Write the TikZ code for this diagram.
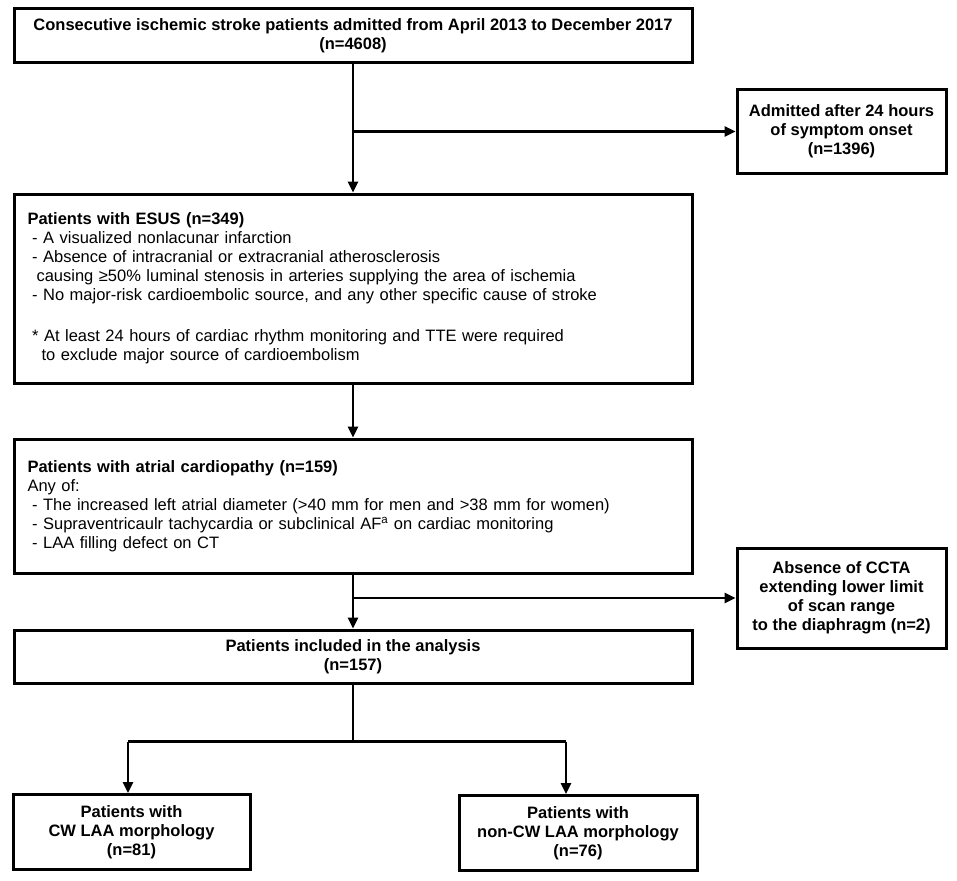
\documentclass[tikz,border=0pt]{standalone}
\usepackage{fontspec}
\setmainfont{Liberation Sans}
\usetikzlibrary{arrows.meta,calc,positioning}
\definecolor{boxdraw}{HTML}{000000}
\definecolor{linkdraw}{HTML}{000000}
\tikzset{
  >={Triangle[length=11pt,width=10pt]},
  flowbox/.style={
    draw=boxdraw,
    line width=3pt,
    fill=white,
    align=center,
    inner sep=4pt,
    font=\fontsize{16.5}{19}\selectfont\bfseries,
  },
  mainbox/.style={flowbox, minimum width=678pt},
  sidebox/.style={flowbox, minimum width=209pt},
  listbox/.style={mainbox, align=left, text width=651pt, inner xsep=13.5pt,
    font=\fontsize{16.5}{19}\selectfont},
  endbox/.style={flowbox, minimum width=237pt, minimum height=75pt},
  link/.style={draw=linkdraw, line width=2.5pt},
}

\begin{document}
\begin{tikzpicture}[x=1pt, y=-1pt, line join=miter]
  \useasboundingbox[fill=white] (0,0) rectangle (957,880);

  \node[mainbox, minimum height=54pt] (cohort) at (353, 36)
    {Consecutive ischemic stroke patients admitted from April 2013 to December 2017\\(n=4608)};
  \node[sidebox, minimum height=83pt] (late) at (841.5, 131.5)
    {Admitted after 24 hours\\of symptom onset\\(n=1396)};
  \node[listbox, minimum height=189pt] (esus) at (353, 288.5) {%
    \textbf{Patients with ESUS (n=349)}\\
    \hspace*{4.6pt}- A visualized nonlacunar infarction\\
    \hspace*{4.6pt}- Absence of intracranial or extracranial atherosclerosis\\
    \hspace*{9pt}causing ≥50\% luminal stenosis in arteries supplying the area of ischemia\\
    \hspace*{4.6pt}- No major-risk cardioembolic source, and any other specific cause of stroke\\[22pt]
    \hspace*{4.6pt}* At least 24 hours of cardiac rhythm monitoring and TTE were required\\
    \hspace*{14pt}to exclude major source of cardioembolism};
  \node[listbox, minimum height=134pt] (atrial) at (353, 506) {%
    \textbf{Patients with atrial cardiopathy (n=159)}\\
    Any of:\\
    \hspace*{4.6pt}- The increased left atrial diameter (>40 mm for men and >38 mm for women)\\
    \hspace*{4.6pt}- Supraventricaulr tachycardia or subclinical AF\textsuperscript{a} on cardiac monitoring\\
    \hspace*{4.6pt}- LAA filling defect on CT};
  \node[sidebox, minimum height=100pt] (ccta) at (841.5, 598)
    {Absence of CCTA\\extending lower limit\\of scan range\\to the diaphragm (n=2)};
  \node[mainbox, minimum height=53pt] (incl) at (353, 656.5)
    {Patients included in the analysis\\(n=157)};
  \node[endbox] (cw) at (131.5, 832)
    {Patients with\\CW LAA morphology\\(n=81)};
  \node[endbox, minimum width=238pt] (noncw) at (578, 833)
    {Patients with\\non-CW LAA morphology\\(n=76)};

  % exclusions branch off the main line
  \coordinate (split1) at (cohort.south |- late.west);
  \coordinate (split2) at (atrial.south |- ccta.west);
  \coordinate (fork) at ($(incl.south)+(0,57)$);

  \draw[link, ->] (cohort.south) -- (esus.north);
  \draw[link, ->] (split1) -- (late.west);
  \draw[link, ->] (esus.south) -- (atrial.north);
  \draw[link, ->] (atrial.south) -- (incl.north);
  \draw[link, ->] (split2) -- (ccta.west);

  \draw[link] (incl.south) -- (fork);
  \draw[link, line width=3.5pt] ($(fork -| cw.north)+(-3.5,0)$) -- ($(fork -| noncw.north)+(-12,0)$);
  \draw[link, ->] ($(fork -| cw.north)+(-3.5,0)$) -- ($(cw.north)+(-3.5,0)$);
  \draw[link, ->] ($(fork -| noncw.north)+(-12,0)$) -- ($(noncw.north)+(-12,0)$);
\end{tikzpicture}
\end{document}
